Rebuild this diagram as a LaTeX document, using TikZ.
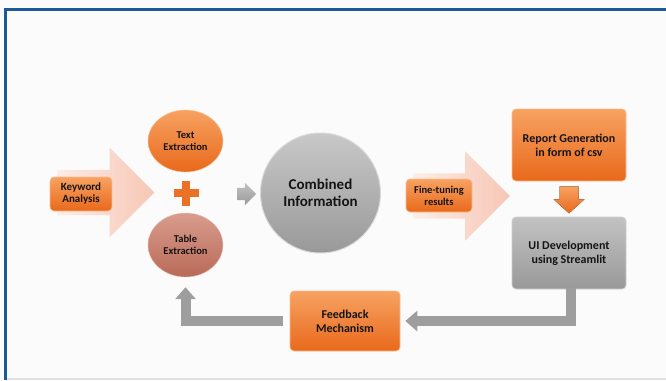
\documentclass[tikz,border=0pt]{standalone}
\usepackage{fontspec}
\setmainfont{Carlito}
\usetikzlibrary{shapes.geometric,shapes.arrows,arrows.meta}

\definecolor{frame}{HTML}{1A5A96}
\definecolor{paper}{HTML}{FBFBFB}
\definecolor{orngL}{HTML}{F7A262}
\definecolor{orngD}{HTML}{E9691B}
\definecolor{brwnL}{HTML}{D99C8D}
\definecolor{brwnD}{HTML}{B96A58}
\definecolor{greyL}{HTML}{C2C2C2}
\definecolor{greyD}{HTML}{999999}
\definecolor{pinkL}{HTML}{FCEDE7}
\definecolor{pinkD}{HTML}{F7C6B4}
\definecolor{ink}{HTML}{141414}

\begin{document}
\begin{tikzpicture}[x=1pt,y=-1pt,
	txt/.style={font=\bfseries,text=ink,align=center},
	obox/.style={txt,rectangle,rounded corners=4pt,top color=orngL,bottom color=orngD,draw=orngL!70!white,line width=0.6pt},
	gbox/.style={txt,rectangle,rounded corners=4pt,top color=greyL,bottom color=greyD,draw=greyL!80!white,line width=0.6pt},
	bigarrow/.style={single arrow,single arrow head extend=22pt,inner xsep=0pt,inner ysep=22.5pt,minimum height=97pt,left color=pinkL,right color=pinkD,draw=none},
	fbline/.style={draw=greyD!95!white,line width=10pt,-{Triangle[length=12pt,width=20pt]}}
]
% page and frame
\fill[paper] (0,0) rectangle (666,380);
\fill[frame] (4,8) rectangle (666,11);
\fill[frame] (4,8) rectangle (7,380);
\fill[black!12] (7,377.5) rectangle (666,380);

% big background arrows
\node (kwarrow) [bigarrow] at (94.5,192.5) {};
\node (ftarrow) [bigarrow] at (450,196) {};

\node (kw) [obox,font=\bfseries\fontsize{11}{12}\selectfont,minimum width=62pt,minimum height=34pt,inner sep=1pt] at (81,194) {Keyword\\Analysis};

\node (text) [txt,ellipse,font=\bfseries\fontsize{10.5}{12}\selectfont,minimum width=75pt,minimum height=62pt,inner sep=0pt,top color=orngL,bottom color=orngD,draw=orngL!60!white] at (185.5,141) {Text\\Extraction};
\node (table) [txt,ellipse,font=\bfseries\fontsize{10.5}{12}\selectfont,minimum width=75pt,minimum height=64pt,inner sep=0pt,top color=brwnL,bottom color=brwnD,draw=brwnL!60!white] at (185.5,245) {Table\\Extraction};

% plus sign
\fill[orngD!85!orngL] (173.5,189) rectangle (198.5,197);
\fill[orngD!85!orngL] (182,180.5) rectangle (190,205.5);

\node (join) [single arrow,single arrow head extend=5pt,inner xsep=0pt,inner ysep=6pt,minimum height=19pt,top color=greyL,bottom color=greyD,draw=none] at (243.5,194) {};

\node (comb) [txt,circle,font=\bfseries\fontsize{15}{17}\selectfont,minimum size=120pt,inner sep=0pt,top color=greyL!90!white,bottom color=greyD,draw=white!85!black,line width=1pt] at (320.5,193) {Combined\\Information};

\node (fine) [obox,font=\bfseries\fontsize{10.5}{12}\selectfont,minimum width=66pt,minimum height=33pt,inner sep=1pt] at (439,195.5) {Fine-tuning\\results};

\node (rep) [obox,font=\bfseries\fontsize{12}{14}\selectfont,minimum width=114pt,minimum height=72pt,inner sep=1pt] at (569,145) {Report Generation\\in form of csv};

% block arrow down to the UI box
\fill[top color=orngL,bottom color=orngD] ([xshift=-9.5pt,yshift=-5pt]rep.south) -- ++(19,0) -- ++(0,13) -- ++(6,0)
	-- ([yshift=-32pt]rep.south) -- ([xshift=-15.5pt,yshift=-18pt]rep.south) -- ++(6,0) -- cycle;

\node (ui) [gbox,font=\bfseries\fontsize{12}{14}\selectfont,minimum width=114pt,minimum height=72pt,inner sep=1pt] at (569,253) {UI Development\\using Streamlit};

\node (fb) [obox,font=\bfseries\fontsize{12}{14}\selectfont,minimum width=110pt,minimum height=60pt,inner sep=1pt] at (345,321) {Feedback\\Mechanism};

% feedback loop
\draw[fbline,shorten >=5pt] ([xshift=2pt,yshift=1pt]ui.south) |- (fb.east);
\draw[fbline,shorten <=7pt,shorten >=10pt] (fb.west) -| (table.south);
\end{tikzpicture}
\end{document}
